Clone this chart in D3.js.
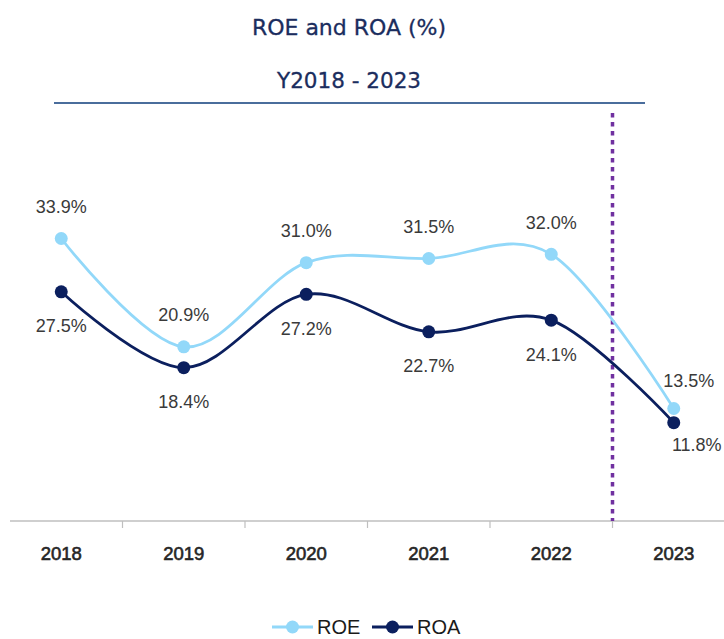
<!DOCTYPE html>
<html>
<head>
<meta charset="utf-8">
<script src="https://cdn.jsdelivr.net/npm/d3@7"></script>
<style>
  body { margin: 0; background: #fff; }
  svg { display: block; }
</style>
</head>
<body>
<div id="chart"></div>
<script>
"use strict"

// chart data
const years = ["2018", "2019", "2020", "2021", "2022", "2023"];
const roe = [33.9, 20.9, 31.0, 31.5, 32.0, 13.5];
const roa = [27.5, 18.4, 27.2, 22.7, 24.1, 11.8];
const seriesNames = ["ROE", "ROA"];
const titleText = "ROE and ROA (%)";
const subtitleText = "Y2018 - 2023";
const dividerYear = "2023";

const W = 724, H = 639;
const colors = { ROE: "#92d8f9", ROA: "#0b1f5e" };

let svg = d3.select("#chart").append("svg")
	.attr("width", W)
	.attr("height", H);

let xScale = d3.scaleBand().domain(years).range([0, 735]).padding(0);
let yScale = d3.scaleLinear().domain([0, 48]).range([521, 121]);
let cx = d => xScale(d) + xScale.bandwidth() / 2;

// title block
svg.append("text")
	.attr("x", 349).attr("y", 35)
	.attr("text-anchor", "middle")
	.attr("font-family", "DejaVu Sans")
	.attr("font-size", 22)
	.attr("fill", "#1b2d5e")
	.attr("stroke", "#1b2d5e")
	.attr("stroke-width", 0.3)
	.text(titleText);

svg.append("text")
	.attr("x", 349).attr("y", 88)
	.attr("text-anchor", "middle")
	.attr("font-family", "DejaVu Sans")
	.attr("font-size", 21.5)
	.attr("fill", "#1b2d5e")
	.attr("stroke", "#1b2d5e")
	.attr("stroke-width", 0.3)
	.text(subtitleText);

svg.append("line")
	.attr("x1", 54).attr("x2", 645)
	.attr("y1", 103).attr("y2", 103)
	.attr("stroke", "#4a6d9c")
	.attr("stroke-width", 2);

// x axis
let xAxis = svg.append("g")
	.attr("transform", "translate(0,521)");

xAxis.append("line")
	.attr("x1", 10).attr("x2", W)
	.attr("stroke", "#bfbfbf")
	.attr("stroke-width", 1.5);

xAxis.selectAll(".tick")
	.data(years.slice(1))
	.enter().append("line")
		.attr("x1", d => xScale(d)).attr("x2", d => xScale(d))
		.attr("y1", 0).attr("y2", 7)
		.attr("stroke", "#bfbfbf")
		.attr("stroke-width", 1.2);

xAxis.selectAll(".xlab")
	.data(years)
	.enter().append("text")
		.attr("x", d => cx(d))
		.attr("y", 39)
		.attr("text-anchor", "middle")
		.attr("font-family", "Liberation Sans, Arial, sans-serif")
		.attr("font-size", 18.5)
		.attr("fill", "#262626")
		.attr("stroke", "#262626")
		.attr("stroke-width", 0.6)
		.text(d => d);

// dotted divider
svg.append("line")
	.attr("x1", xScale(dividerYear)).attr("x2", xScale(dividerYear))
	.attr("y1", 113).attr("y2", 521)
	.attr("stroke", "#7030a0")
	.attr("stroke-width", 3.5)
	.attr("stroke-dasharray", "4.5,4.5");

// lines
let line = d3.line()
	.x(d => cx(d.year))
	.y(d => yScale(d.value))
	.curve(d3.curveCardinal.tension(0));

let series = [
	{ name: "ROE", values: years.map((y, i) => ({ year: y, value: roe[i] })) },
	{ name: "ROA", values: years.map((y, i) => ({ year: y, value: roa[i] })) }
];

series.forEach(s => {
	svg.append("path")
		.datum(s.values)
		.attr("d", line)
		.attr("fill", "none")
		.attr("stroke", colors[s.name])
		.attr("stroke-width", 2.8);
});

series.forEach(s => {
	svg.selectAll(".pt-" + s.name)
		.data(s.values)
		.enter().append("circle")
			.attr("cx", d => cx(d.year))
			.attr("cy", d => yScale(d.value))
			.attr("r", 6.5)
			.attr("fill", colors[s.name]);
});

// data labels: ROE above, ROA below; last year nudged right
function labelDx(s, i) {
	if (i < years.length - 1) return 0;
	return s.name === "ROE" ? 15 : 23;
}
function labelDy(s, i) {
	if (s.name === "ROE") return i < years.length - 1 ? -32 : -28;
	return i < years.length - 1 ? 34 : 22;
}

series.forEach(s => {
	svg.selectAll(".lab-" + s.name)
		.data(s.values)
		.enter().append("text")
			.attr("x", (d, i) => cx(d.year) + labelDx(s, i))
			.attr("y", (d, i) => yScale(d.value) + labelDy(s, i))
			.attr("dy", "0.36em")
			.attr("text-anchor", "middle")
			.attr("font-family", "Liberation Sans, Arial, sans-serif")
			.attr("font-size", 18)
			.attr("fill", "#3a3a3a")
			.text(d => d.value.toFixed(1) + "%");
});

// legend
let legendX = [272, 372];
let legend = svg.selectAll(".legend")
	.data(seriesNames)
	.enter().append("g")
		.attr("transform", (d, i) => `translate(${legendX[i]},627)`);

legend.append("line")
	.attr("x1", 0).attr("x2", 41)
	.attr("stroke", d => colors[d])
	.attr("stroke-width", 3);

legend.append("circle")
	.attr("cx", 20.5)
	.attr("r", 6.5)
	.attr("fill", d => colors[d]);

legend.append("text")
	.attr("x", 45)
	.attr("y", 7)
	.attr("font-family", "Liberation Sans, Arial, sans-serif")
	.attr("font-size", 20)
	.attr("fill", "#1a1a1a")
	.text(d => d);
</script>
</body>
</html>
